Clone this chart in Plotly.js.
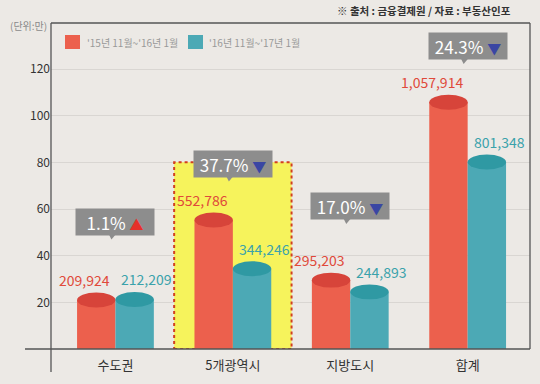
<!DOCTYPE html>
<html>
<head>
<meta charset="utf-8">
<script src="https://cdn.plot.ly/plotly-3.0.1.min.js"></script>
<style>html,body{margin:0;padding:0;background:#ece9e5;}#chart{width:540px;height:384px;}</style>
</head>
<body>
<div id="chart"></div>
<script>
// ---- data ----
const categories = ['수도권', '5개광역시', '지방도시', '합계'];
const seriesNames = ["'15년 11월~'16년 1월", "'16년 11월~'17년 1월"];
const values2015 = [209924, 552786, 295203, 1057914];
const values2016 = [212209, 344246, 244893, 801348];
const changePct = [1.1, -37.7, -17.0, -24.3];
const yTicks = [20, 40, 60, 80, 100, 120];
const unitText = '(단위:만)';
const sourceText = '※ 출처 : 금융결제원 / 자료 : 부동산인포';

// ---- styling / layout ----
const FONT = '"Noto Sans CJK KR", "Noto Sans", sans-serif';
const redBody = '#ec604d', redTop = '#d7443a', redText = '#e0493a';
const tealBody = '#4ca9b5', tealTop = '#2f99a3', tealText = '#3aa2ab';
const boxGrey = '#8d8d8d';
const bargap = 0.346;
const barW = (1 - bargap) / 2;
const ellR = 3.2;               // half-height of cylinder top, y units
const calloutY = [54.6, 79.5, 61.3, 129.9];
const highlightIdx = 1;

// plot area in pixels
const L = 51, R = 530, T = 23, B = 349;
const px2x = p => (p - L) / (R - L);
const px2y = p => (B - p) / (B - T);

const scale = v => v / 10000;
const y1 = values2015.map(scale);
const y2 = values2016.map(scale);
const idx = categories.map((c, i) => i);

const traces = [
  {type: 'bar', x: categories, y: y1, name: seriesNames[0], marker: {color: redBody}, hoverinfo: 'skip', showlegend: false},
  {type: 'bar', x: categories, y: y2, name: seriesNames[1], marker: {color: tealBody}, hoverinfo: 'skip', showlegend: false}
];

const shapes = [];
// highlight box
shapes.push({type: 'rect', xref: 'x', yref: 'y', x0: highlightIdx - 0.5, x1: highlightIdx + 0.5, y0: 0, y1: 80,
  fillcolor: '#f6f35c', line: {color: '#d23f1f', width: 2, dash: 'dot'}, layer: 'between'});
// cylinder tops
idx.forEach(i => {
  shapes.push({type: 'circle', xref: 'x', yref: 'y', x0: i - barW, x1: i, y0: y1[i] - ellR, y1: y1[i] + ellR,
    fillcolor: redTop, line: {width: 0}});
  shapes.push({type: 'circle', xref: 'x', yref: 'y', x0: i, x1: i + barW, y0: y2[i] - ellR, y1: y2[i] + ellR,
    fillcolor: tealTop, line: {width: 0}});
});
// callout tails
idx.forEach(i => {
  shapes.push({type: 'path', xref: 'x', yref: 'y', xsizemode: 'pixel', ysizemode: 'pixel',
    xanchor: i, yanchor: calloutY[i], path: 'M -7 -12 L 1 -12 L -4 -18 Z', fillcolor: boxGrey, line: {width: 0}});
});
// frame
const frameColor = '#555';
shapes.push({type: 'line', xref: 'paper', yref: 'paper', x0: 0, x1: 0, y0: px2y(372), y1: 1, line: {color: frameColor, width: 1.3}});
shapes.push({type: 'line', xref: 'paper', yref: 'paper', x0: 0, x1: 1, y0: 1, y1: 1, line: {color: frameColor, width: 1.3}});
shapes.push({type: 'line', xref: 'paper', yref: 'paper', x0: 1, x1: 1, y0: 0, y1: 1, line: {color: frameColor, width: 1.3}});
shapes.push({type: 'line', xref: 'paper', yref: 'paper', x0: px2x(25), x1: 1, y0: 0, y1: 0, line: {color: frameColor, width: 1.3}});
// legend squares
shapes.push({type: 'rect', xref: 'paper', yref: 'paper', x0: px2x(65), x1: px2x(80), y0: px2y(49), y1: px2y(35), fillcolor: redBody, line: {width: 0}});
shapes.push({type: 'rect', xref: 'paper', yref: 'paper', x0: px2x(188), x1: px2x(203), y0: px2y(49), y1: px2y(35), fillcolor: tealBody, line: {width: 0}});

const fmt = v => v.toLocaleString('en-US');
const annotations = [];
idx.forEach(i => {
  annotations.push({x: i, y: y1[i], xref: 'x', yref: 'y', text: fmt(values2015[i]), showarrow: false,
    xanchor: 'right', yanchor: 'middle', xshift: -3, yshift: 20, font: {family: FONT, size: 14, color: redText}});
  annotations.push({x: i, y: y2[i], xref: 'x', yref: 'y', text: fmt(values2016[i]), showarrow: false,
    xanchor: 'left', yanchor: 'middle', xshift: 4, yshift: 20, font: {family: FONT, size: 14, color: tealText}});
  const up = changePct[i] >= 0;
  const tri = up ? '<span style="color:#e5302a;font-size:14px">▲</span>' : '<span style="color:#3a46a3;font-size:14px">▼</span>';
  annotations.push({x: i, y: calloutY[i], xref: 'x', yref: 'y', showarrow: false,
    text: Math.abs(changePct[i]).toFixed(1) + '% ' + tri,
    width: 74, height: 22, borderpad: 2, bgcolor: boxGrey, align: 'center', valign: 'middle',
    font: {family: FONT, size: 17, color: '#ffffff'}});
});
// legend text
annotations.push({xref: 'paper', yref: 'paper', x: px2x(85), y: px2y(42), xanchor: 'left', yanchor: 'middle', showarrow: false,
  text: seriesNames[0], font: {family: FONT, size: 10, color: '#999'}});
annotations.push({xref: 'paper', yref: 'paper', x: px2x(207), y: px2y(42), xanchor: 'left', yanchor: 'middle', showarrow: false,
  text: seriesNames[1], font: {family: FONT, size: 10, color: '#999'}});
// unit & source
annotations.push({xref: 'paper', yref: 'paper', x: px2x(8), y: px2y(26), xanchor: 'left', yanchor: 'middle', showarrow: false,
  text: unitText, font: {family: FONT, size: 10, color: '#8a8a8a'}});
annotations.push({xref: 'paper', yref: 'paper', x: px2x(513), y: px2y(11), xanchor: 'right', yanchor: 'middle', showarrow: false,
  text: sourceText, font: {family: FONT, size: 10.5, color: '#333', weight: 600}});

const layout = {
  width: 540, height: 384,
  margin: {l: L, r: 540 - R, t: T, b: 384 - B},
  paper_bgcolor: '#ece9e5', plot_bgcolor: '#ece9e5',
  barmode: 'group', bargap: bargap, bargroupgap: 0,
  showlegend: false,
  xaxis: {type: 'category', categoryorder: 'array', categoryarray: categories,
    range: [-0.549, 3.531], showgrid: false, zeroline: false, showline: false, ticks: '',
    tickfont: {family: FONT, size: 13, color: '#333'}, ticklabelstandoff: 7, fixedrange: true},
  yaxis: {range: [0, (B - T) / 2.333], tickvals: yTicks, ticktext: yTicks.map(String),
    showgrid: true, gridcolor: '#d9d6d2', gridwidth: 1, zeroline: false, showline: false, ticks: '',
    tickfont: {family: FONT, size: 12, color: '#333'}, fixedrange: true},
  shapes: shapes,
  annotations: annotations
};

Plotly.newPlot('chart', traces, layout, {displayModeBar: false, staticPlot: true});
</script>
</body>
</html>
